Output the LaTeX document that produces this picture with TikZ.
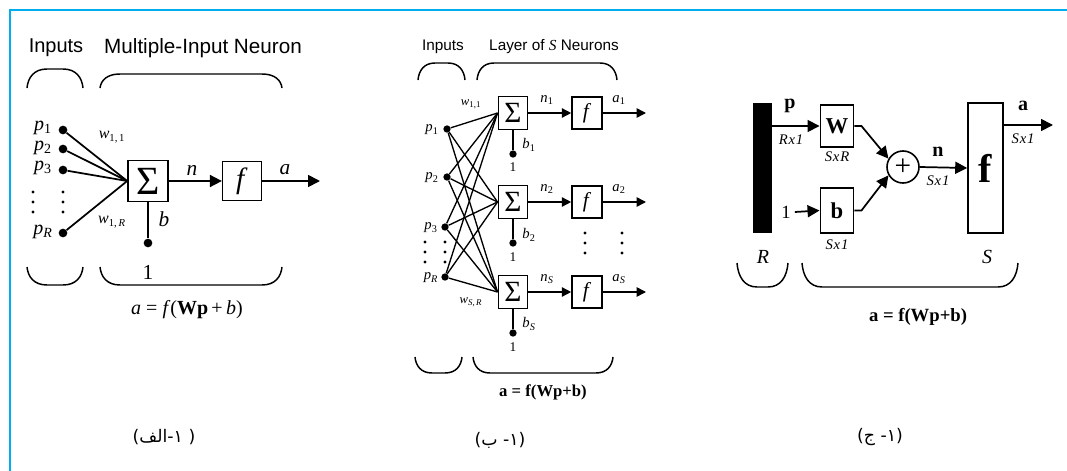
\documentclass[tikz,border=0pt]{standalone}
\usepackage{fontspec}
\setmainfont{Liberation Serif}
\newfontfamily\hel{Liberation Sans}
\newfontfamily\arabicfont[Script=Arabic]{DejaVu Sans}
\TeXXeTstate=1
\usetikzlibrary{arrows.meta}
\definecolor{frameblue}{RGB}{0,174,239}
\newcommand\fs[1]{\fontsize{#1}{#1}\selectfont}
% x1, x2, y of flat part, y of ends, corner radius
\newcommand\arch[5]{\draw[brace] (#1,#4) .. controls (#1+0.05*#5,#3+0.45*#4-0.45*#3) and (#1+0.35*#5,#3) .. (#1+#5,#3) -- (#2-#5,#3) .. controls (#2-0.35*#5,#3) and (#2-0.05*#5,#3+0.45*#4-0.45*#3) .. (#2,#4);}
\newcommand\vdotsat[2]{\foreach \yy in {-10,0,10} \fill (#1,#2+\yy) circle (1.3pt);}
\newcommand\dimtxt[3]{\textit{#1\kern0.6pt#2\kern0.6pt#3}}
\tikzset{
  ln/.style={line width=1.3pt},
  thin2/.style={line width=1pt},
  arr/.style={ln,-{Triangle[length=9pt,width=9pt]}},
  arrs/.style={line width=1.1pt,-{Triangle[length=7pt,width=7pt]}},
  sbox/.style={draw,line width=1.2pt,inner sep=0pt,fill=white},
  dot/.style={circle,fill,inner sep=0pt,minimum size=6.5pt},
  sdot/.style={circle,fill,inner sep=0pt,minimum size=5.5pt},
  brace/.style={line width=1.1pt},
  lbl/.style={inner sep=0pt},
  dimlbl/.style={inner sep=0pt,font=\fs{11}},
}
\begin{document}
\begin{tikzpicture}[x=0.75pt,y=-0.75pt]
\useasboundingbox (0,0) rectangle (1067,471);
\fill[white] (0,0) rectangle (1067,471);
\draw[frameblue,line width=2.2pt] (10,471) -- (10,10) -- (1067,10);

% ---------------- Panel 1
\node[lbl,font=\hel\fs{15}] (h1a) at (56,48) {Inputs};
\node[lbl,font=\hel\fs{15.5}] (h1b) at (203,48) {Multiple-Input Neuron};
\arch{27}{83}{69}{88}{20}
\arch{100}{282}{74}{88}{20}
\arch{27}{83}{285}{267}{20}
\arch{100}{282}{285}{267}{20}

\node[dot] (p1) at (63,130) {};
\node[dot] (p2) at (63,149) {};
\node[dot] (p3) at (63,170) {};
\node[dot] (pR) at (63,233) {};
\node[lbl,font=\fs{15}] at (43,128) {\textit{p}\textsubscript{1}};
\node[lbl,font=\fs{15}] at (43,148) {\textit{p}\textsubscript{2}};
\node[lbl,font=\fs{15}] at (43,168) {\textit{p}\textsubscript{3}};
\node[lbl,font=\fs{15}] at (43,232) {\textit{p}\textsubscript{\textit{R}}};
\vdotsat{33}{202}
\vdotsat{63}{202}

\node[sbox,minimum width=30pt,minimum height=31pt,font=\fs{30}] (s1) at (148,181) {Σ};
\node[sbox,minimum width=29pt,minimum height=29pt,font=\fs{22}] (f1) at (242,181) {\textit{f}};
\foreach \p in {p1,p2,p3,pR} \draw[ln] (\p) -- (s1.west);
\node[lbl,font=\fs{12}] at (112,137) {\textit{w}\textsubscript{1,\,1}};
\node[lbl,font=\fs{12}] at (112,222) {\textit{w}\textsubscript{1,\,\textit{R}}};
\coordinate (ao1) at (320,181);
\draw[arr] (s1.east) -- (f1.west);
\draw[arr] (f1.east) -- (ao1);
\node[dot] (bd1) at (148,243) {};
\draw[ln] (s1.south) -- (bd1);
\node[lbl,font=\fs{16}] at (192,170) {\textit{n}};
\node[lbl,font=\fs{16}] at (285,170) {\textit{a}};
\node[lbl,font=\fs{16}] at (164,219) {\textit{b}};
\node[lbl,font=\fs{16}] at (148,272) {1};
\node[lbl,font=\fs{15}] at (187,310) {\textit{a} = \textit{f}(\textbf{Wp}\,+\,\textit{b})};

% ---------------- Panel 2
\node[lbl,font=\hel\fs{11.5}] at (443,47) {Inputs};
\node[lbl,font=\hel\fs{11.5}] at (554,47) {Layer of {\rmfamily\itshape S} Neurons};
\arch{418}{465}{63}{80}{17}
\arch{477}{617}{63}{80}{17}
\arch{415}{462}{373}{357}{17}
\arch{473}{613}{373}{357}{17}

\node[sdot] (q1) at (447,129) {};
\node[sdot] (q2) at (447,177) {};
\node[sdot] (q3) at (445,227) {};
\node[sdot] (qR) at (445,277) {};
\node[lbl,font=\fs{11}] at (432,130) {\textit{p}\textsubscript{1}};
\node[lbl,font=\fs{11}] at (432,178) {\textit{p}\textsubscript{2}};
\node[lbl,font=\fs{11}] at (431,228) {\textit{p}\textsubscript{3}};
\node[lbl,font=\fs{11}] at (431,278) {\textit{p}\textsubscript{\textit{R}}};
\vdotsat{425}{252}
\vdotsat{445}{252}

\foreach \n/\y in {1/113,2/202,3/292}{
  \node[sbox,minimum width=22pt,minimum height=25pt,font=\fs{22}] (s2\n) at (513,\y) {Σ};
  \node[sbox,minimum width=22.5pt,minimum height=24pt,font=\fs{16}] (f2\n) at (587,\y) {\textit{f}};
  \coordinate (o2\n) at (646,\y);
}
\foreach \p in {q1,q2,q3,qR} \foreach \s in {s21,s22,s23} \draw[thin2] (\p) -- (\s.west);
\foreach \n in {1,2,3}{
  \draw[arrs] (s2\n.east) -- (f2\n.west);
  \draw[arrs] (f2\n.east) -- (o2\n);
}
\node[sdot] (bb1) at (513,154) {};
\node[sdot] (bb2) at (513,243) {};
\node[sdot] (bb3) at (513,333) {};
\draw[thin2] (s21.south) -- (bb1);
\draw[thin2] (s22.south) -- (bb2);
\draw[thin2] (s23.south) -- (bb3);
\node[lbl,font=\fs{11}] at (529,145) {\textit{b}\textsubscript{1}};
\node[lbl,font=\fs{11}] at (529,235) {\textit{b}\textsubscript{2}};
\node[lbl,font=\fs{11}] at (529,324) {\textit{b}\textsubscript{\textit{S}}};
\node[lbl,font=\fs{10}] at (513,167) {1};
\node[lbl,font=\fs{10}] at (513,257) {1};
\node[lbl,font=\fs{10}] at (513,347) {1};
\node[lbl,font=\fs{11}] at (547,100) {\textit{n}\textsubscript{1}};
\node[lbl,font=\fs{11}] at (619,100) {\textit{a}\textsubscript{1}};
\node[lbl,font=\fs{11}] at (547,189) {\textit{n}\textsubscript{2}};
\node[lbl,font=\fs{11}] at (619,189) {\textit{a}\textsubscript{2}};
\node[lbl,font=\fs{11}] at (547,279) {\textit{n}\textsubscript{\textit{S}}};
\node[lbl,font=\fs{11}] at (619,279) {\textit{a}\textsubscript{\textit{S}}};
\vdotsat{585}{243}
\vdotsat{622}{243}
\node[lbl,font=\fs{9.5}] at (471,104) {\textit{w}\textsubscript{1,1}};
\node[lbl,font=\fs{9.5}] at (471,302) {\textit{w}\textsubscript{\textit{S,\,R}}};
\node[lbl,font=\fs{12.5}] at (543,392) {\textbf{a = f(Wp+b)}};

% ---------------- Panel 3
\node[fill=black,inner sep=0pt,minimum width=14.25pt,minimum height=97.5pt] (bar) at (762.5,168) {};
\node[sbox,minimum width=25pt,minimum height=31.5pt,font=\bfseries\fs{17}] (W) at (837,126) {W};
\node[sbox,minimum width=25pt,minimum height=33.5pt,font=\bfseries\fs{17}] (B) at (837,210.5) {b};
\node[draw,circle,line width=1.2pt,minimum size=24pt,inner sep=0pt,font=\fs{22}] (add) at (903,167) {+};
\node[sbox,minimum width=26.25pt,minimum height=97.5pt,font=\bfseries\fs{30}] (F3) at (985.5,168) {f};
\node[lbl,font=\fs{14}] (one3) at (786,212) {1};
\coordinate (o3) at (1053,125);
\draw[arr] (W.west -| bar.east) -- (W.west);
\draw[arr] (one3.east) ++(3pt,0) -- (B.west);
\draw[arr] (W.east) -- ++(7,0) -- (add.150);
\draw[arr] (B.east) -- ++(7,0) -- (add.210);
\draw[arr] (add.east) -- (F3.west);
\draw[arr] (F3.east |- o3) -- (o3);
\node[lbl,font=\bfseries\fs{15}] at (790,106) {p};
\node[dimlbl] at (791,140) {\dimtxt{R}{x}{1}};
\node[dimlbl] at (837,157) {\dimtxt{S}{x}{R}};
\node[dimlbl] at (837,245) {\dimtxt{S}{x}{1}};
\node[lbl,font=\bfseries\fs{15}] at (938,152) {n};
\node[dimlbl] at (938,181) {\dimtxt{S}{x}{1}};
\node[lbl,font=\bfseries\fs{15}] at (1023,106) {a};
\node[dimlbl] at (1023,139) {\dimtxt{S}{x}{1}};
\node[lbl,font=\itshape\fs{15}] at (763,257) {R};
\node[lbl,font=\itshape\fs{15}] at (987,257) {S};
\arch{737}{788}{287}{263}{20}
\arch{802}{1018}{287}{263}{20}
\node[lbl,font=\fs{14}] at (918,317) {\textbf{a = f(Wp+b)}};

% ---------------- Captions
\node[lbl,font=\arabicfont\fs{13}] at (164,437) {\beginR( ١-الف)\endR};
\node[lbl,font=\arabicfont\fs{13}] at (500,440) {\beginR(١- ب)\endR};
\node[lbl,font=\arabicfont\fs{13}] at (880,437) {\beginR(١- ج)\endR};
\end{tikzpicture}
\end{document}
